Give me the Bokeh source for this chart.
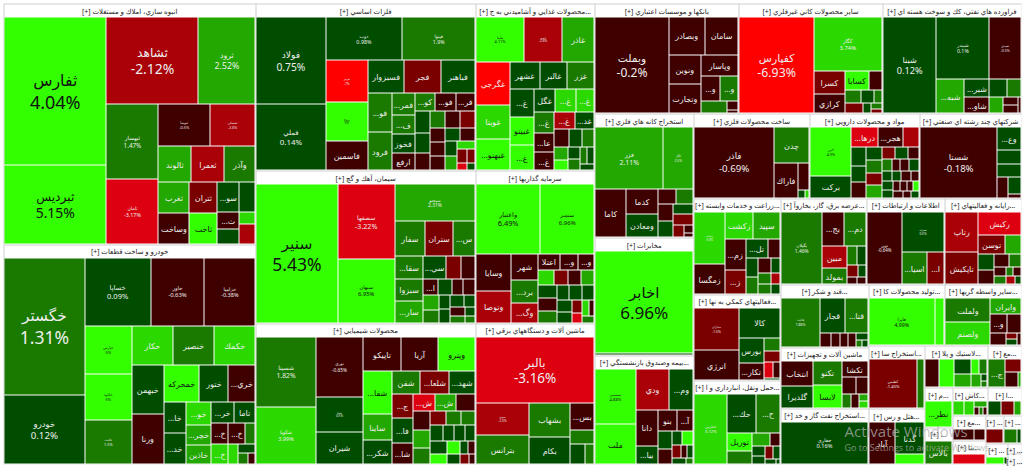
from bokeh.plotting import figure
from bokeh.models import ColumnDataSource
from bokeh.core.properties import value
from bokeh.embed import file_html
from bokeh.resources import INLINE
import numpy as np

s01_t="انبوه سازي، املاك و مستغلات"
s01_n=["ثفارس","ثبرديس","ثشاهد","ثرود","ثبهساز","ثامان","ثنوسا","ثمسكن","ثالوند","ثعمرا","وآذر","ثغرب","وساخت","ثتران","ثاخت","...سو","","...ث","","",""]
s01_v=[14872,7800,7790,4785,3773,3200,2050,1804,1120,1120,1050,900,870,810,783,609,435,336,273,165,270]
s01_c=[4.04,5.15,-2.12,2.52,1.47,-3.17,-0.5,-2.6,2.5,-2.5,1.5,2.5,-0.5,-1.5,5,0.5,0.5,-1,0.5,3.5,-2.5]
s01_l="c2 r2 c2 r2 r3 c2 c2 r2 c2 c2"
s02_t="خودرو و ساخت قطعات"
s02_n=["خگستر","خودرو","خساپا","خاور","خزاميا","خپارس","خكاوه","خلنت","حكار","خنصير","خكمك","خبهمن","ورنا","خمحركه","ختور","...خري","...خا","...خد","...خو","...خچر","خاذين","...خر","تاما","...خ","...خ","","...خ","","","",""]
s02_v=[10960,5440,4420,3604,3400,2162,2116,1978,1520,1520,1520,1488,1519,1260,1008,936,651,630,550,475,450,440,420,320,320,180,304,171,128,90,60]
s02_c=[1.31,0.12,0.09,-0.63,-0.38,5,5,1.5,3.2,1.5,3.5,0.5,-0.5,5,0.5,-0.5,0.5,0.5,3,2.5,2.5,0.5,0.5,-0.5,-1,1.5,3,3,0.5,1.5,-0.5]
s02_l="c2 r3 c3 r3 c2 r3 c2 c3 r2 r3 c1 c1 r1 r2"
s03_t="فلزات اساسي"
s03_n=["فولاد","فملي","ذوب","فينوا","هرمز","ونوكا","فاسمين","فسبزوار","فجر","فباهنر","...فو","فرود","...فمر","...ف","فخوز","ارفع","...كو","...فو","...فر","","","","","","","","","","","","","","","","","",""]
s03_v=[5848,4488,3225,3053,1681,1558,1189,1120,1120,1056,874,851,462,396,396,352,320,320,304,294,266,224,240,195,195,195,224,224,168,168,154,143,128,117,91,54,42]
s03_c=[0.75,0.14,0.98,1.9,-7,5,-0.5,0.5,-1.5,0.5,1.5,1.5,1.5,1.5,0.5,-0.5,1.5,-0.5,-0.5,0.5,0.5,-0.5,1.5,-0.5,-0.5,-0.5,-0.5,-1.5,0.5,-0.5,0.5,2.5,3,-1.5,-1.5,-3.5,0.5]
s03_l="c2 r2 c3 r3 c2 c4 r3 c3 c4 r2 r2 c2 r1 r2 r2"
s04_t="محصولات غذايي و آشاميدني به ج"
s04_n=["ملينا","غپينو","غاذر","غگرجي","غويتا","...غبهنو","غشهر","غالبر","غزر","...غ","غبينو","...غ","غگل","...غ","...غ","...غ","...عا","...غ","...غ","...غد","","","","","","","","","",""]
s04_v=[2021,1591,1333,1344,1056,992,725,675,650,616,594,550,441,420,378,378,342,324,315,300,225,195,180,154,121,126,108,100,100,72]
s04_c=[4.11,-2.6,2.5,-7,3.2,5,0.5,0.5,1.5,0.5,5,5,0.5,3.5,3.5,1.5,-0.5,-0.5,-2.5,0.5,-0.5,0.5,1.5,2.5,5,0.5,1.5,1.5,0.5,0.5]
s04_l="r3 c3 r3 c3 r3 c3 r2 r3 c2 c2 r2 r1"
s05_t="سيمان، آهك و گچ"
s05_n=["سنير","سصفها","سبهان","سبجنو","سفار","ستران","...س","...سقا","سبزوا","...سار","...سي","","","...ا","","","","","","","","","","","","",""]
s05_v=[10880,4088,3472,2765,986,918,714,594,567,567,462,315,273,210,195,165,165,196,168,135,126,126,108,110,80,72,48]
s05_c=[5.43,-3.22,6.95,2.31,1.5,-1.5,1.5,1.5,1.5,2.5,0.5,-1.5,-0.5,-0.5,0.5,-0.5,-0.5,2.5,1.5,0.5,0.5,0.5,0.5,-0.5,1.5,0.5,1.5]
s05_l="c1 c2 r1 r3 c3 r3 r4 c2 c2 r2 c2 c2"
s06_t="سرمايه گذاريها"
s06_n=["واعتبار","ستمبر","وسايا","وتوصا","شهر","...برد","...وگ","اعتلا","...و","...و","","","","","","","","","","","","","","","","",""]
s06_v=[4221,3551,1221,1023,650,550,475,315,270,225,208,169,169,169,208,192,192,156,156,144,156,143,104,72,90,70,63]
s06_c=[6.49,6.96,-0.5,-2.5,-0.5,1.5,-2.5,-0.5,-0.5,-0.5,3.2,-1.5,-0.5,2.5,0.5,-0.5,1.5,0.5,0.5,0.5,0.5,0.5,-1.5,-3.5,3.2,-0.5,1.5]
s06_l="r2 c2 c3 r3 r4 c3 r3 c2 c2 r2 r1"
s07_t="محصولات شيميايي"
s07_n=["شسينا","شكويا","نوري","شپنا","شيران","تاپيكو","آريا","وپترو","...شفا","ساينا","...شكر","شفن","...شلعا","...شهد","...ج","...فا","...شا","...ش","...ش","","","","","","","","","","","","","","","","","","",""]
s07_v=[4002,3248,2714,1564,1426,1221,1221,1188,1134,675,621,588,588,525,480,480,420,315,315,285,285,270,225,208,182,182,182,140,140,140,182,143,140,110,88,72,72,48]
s07_c=[1.82,3.99,-0.65,0.5,0.5,-0.5,-0.5,5,5,2.5,0.5,1.5,-1.5,0.5,-1.5,0.5,-0.5,-3.5,2.5,-0.5,-0.5,2.5,1.5,-1.5,1.5,1.5,0.5,0.5,0.5,0.5,0.5,5,5,0.5,0.5,-0.5,-1.5,-0.5]
s07_l="c2 c3 r3 c3 r3 c3 r3 c3 r3 r4 c2 c2 r2 r2"
s08_t="ماشين آلات و دستگاههاي برقي"
s08_n=["بالبر","بموتو","بترانس","بشهاب","بكام","...بس","","",""]
s08_v=[7605,1612,1456,1320,1040,598,299,266,152]
s08_c=[-3.16,-2.5,1.5,1.5,0.5,-0.5,1.5,0.5,1.5]
s08_l="r1 c2 c2 r1 r1 r2"
s09_t="بانكها و موسسات اعتباري"
s09_n=["وبملت","وبصادر","سامان","ونوين","وتجارت","وپاسار","...و","...و","","",""]
s09_v=[6840,1260,1188,868,868,756,432,408,275,88,22]
s09_c=[-0.2,-0.5,-0.5,-0.5,-0.5,-0.5,-0.5,1.5,1.5,-0.5,-0.5]
s09_l="c1 r2 c2 r1 r2 c1 r1 r1"
s10_t="ساير محصولات كاني غيرفلزي"
s10_n=["كفپارس","كگاز","كسرا","كرازي","كسابا","","","","","","","",""]
s10_v=[6935,3551,660,540,414,216,176,132,77,160,66,45,33]
s10_c=[-6.93,3.74,-1.5,-0.5,5,-0.5,1.5,0.5,1.5,-1.5,0.5,1.5,-1.5]
s10_l="c1 r1 c2 r2 r3 c1 c1 c2"
s11_t="فراورده هاي نفتي، كك و سوخت هسته اي"
s11_n=["شبنا","شبندر","شپدي","...شبه","...شبر","...شاو","","","","","",""]
s11_v=[5035,3172,1891,891,408,360,272,221,192,112,98,32]
s11_c=[0.12,0.1,-0.5,2.5,0.5,-0.5,0.5,1.5,2.5,-0.5,-0.5,-0.5]
s11_l="c1 r2 c1 c2 r2 c1 c2 c1"
s12_t="استخراج كانه هاي فلزي"
s12_n=["فزر","كگل","كاما","كدما","ومعادن","","","","","","","","",""]
s12_v=[4020,1740,1380,713,682,221,221,224,210,180,180,110,63,27]
s12_c=[2.11,2.5,-0.5,-0.5,0.5,-0.5,1.5,-0.5,0.5,0.5,-1.5,-1.5,-0.5,-0.5]
s12_l="r2 c1 c2 r2 c2 r1 r1 c1 c2"
s13_t="مخابرات"
s13_n=["اخابر",""]
s13_v=[9702,190]
s13_c=[6.96,0.5]
s13_l="r1 r1"
s14_t="بيمه وصندوق بازنشستگي"
s14_n=["ممسنی","ملت","ودي","...وم","دانا","...بيا","بنو","...آ","","","","","","","","",""]
s14_v=[2106,1482,1287,897,735,357,342,304,216,168,132,132,90,60,60,72,32]
s14_c=[4.88,5,-2.5,0.5,-0.5,0.5,-0.5,-0.5,0.5,-0.5,0.5,5,-1.5,-0.5,0.5,0.5,1.5]
s14_l="c2 r2 c2 r2 c2 r2 r3 r2"
s15_t="ساخت محصولات فلزي"
s15_n=["فاذر","چدن","فاراك","","",""]
s15_v=[5372,1190,759,260,36,24]
s15_c=[-0.69,1.5,-0.5,-0.5,0.5,3.5]
s15_l="c1 r1 c1 r1 r2"
s16_t="مواد و محصولات دارويي"
s16_n=["البرز","بركت","...درها","...هجر","","","","","","","","","","","","","","","","","","","","","","","","","","","",""]
s16_v=[1872,780,468,450,270,234,195,195,168,168,154,154,130,120,110,90,80,80,90,81,72,72,63,81,72,49,49,42,42,48,40,42]
s16_c=[4.9,0.5,-3.5,-0.5,-2.5,0.5,0.5,-0.5,0.5,1.5,-1.5,2.5,-1.5,0.5,-0.5,1.5,-0.5,-0.5,0.5,0.5,0.5,-0.5,-0.5,0.5,0.5,-0.5,-0.5,-0.5,5,-0.5,-0.5,0.5]
s16_l="c2 r3 c3 c4 r3 r4 r4 c2 r4 r3"
s17_t="شركتهاي چند رشته اي صنعتي"
s17_n=["شستا","...وع","","","","",""]
s17_v=[5168,483,299,276,190,180,36]
s17_c=[-0.18,0.5,0.5,0.5,-0.5,0.5,-0.5]
s17_l="c1 r1 r1 r1 c1 c2"
s18_t="زراعت و خدمات وابسته"
s18_n=["زدشت","زمگسا","زكشت","سپيد","...زم","...ز","...تل","","","","","","","","",""]
s18_v=[1500,812,702,676,580,440,378,216,187,176,156,117,120,90,96,72]
s18_c=[3.3,-0.5,3.2,2.5,-0.5,-1.5,0.5,-0.5,0.5,1.5,-0.5,0.5,1.5,-2.5,1.5,0.5]
s18_l="c2 r2 c2 r2 c2 r2 r2 r2"
s19_t="عرضه برق، گاز، بخاروآ"
s19_n=["بگيلان","...بج","...دم","مبين","بمولد","","","","","",""]
s19_v=[2622,651,651,483,322,153,153,99,72,54,45]
s19_c=[1.46,-0.5,1.5,-3,1.5,1.5,0.5,-1.5,0.5,-0.5,-0.5]
s19_l="c1 r2 c2 r2 r2 r2"
s20_t="اطلاعات و ارتباطات"
s20_n=["نوين","همراه","...اسيا","...ا"]
s20_v=[2277,1558,696,464]
s20_c=[-0.64,0.5,1.5,-1.5]
s20_l="c1 r1 r2"
s21_t="رايانه و فعاليتهاي"
s21_n=["رتاپ","تاپكيش","ركيش","توسن","","","","","","","","","","",""]
s21_v=[1254,957,902,450,270,196,182,165,121,88,48,56,77,56,35]
s21_c=[-2.5,-1.5,-3.5,-1.5,2.5,0.5,-0.5,-0.5,1.5,-0.5,1.5,-0.5,1.5,-3,0.5]
s21_l="c2 r1 r2 c2 r2 r3 r3"
s22_t="فعاليتهاي كمكي به نها"
s22_n=["مداران","انرژي","كالا","بورس","...تكار","","","","",""]
s22_v=[1806,1247,1189,576,384,192,160,126,98,22]
s22_c=[-1.5,-0.5,0.5,0.5,-0.5,1.5,-1.5,-3.2,-0.5,0.5]
s22_l="c2 r1 c2 r1 r1 r2 r1"
s23_t="حمل ونقل، انبارداري و ا"
s23_n=["حفارس","...حك","...ح","توريل","","","","","","","","",""]
s23_v=[2176,1036,888,384,288,204,108,108,84,84,72,40,12]
s23_c=[3.12,0.5,1.5,4.5,1.5,2.5,-0.5,0.5,0.5,-1.5,0.5,0.5,0.5]
s23_l="c1 r2 c2 r2 c2 r2 r2"
s24_t="قند و شكر"
s24_n=["قثابت","قجار","...قتا","","","","","","",""]
s24_v=[1728,816,714,130,91,91,78,56,32,30]
s24_c=[1.86,0.5,1.5,-0.5,-0.5,-0.5,-0.5,0.5,1.5,0.5]
s24_l="c1 r2 c1 c1 c1 c1 r1 r2"
s25_t="ماشين آلات و تجهيزات"
s25_n=["انتخاب","گلديرا","تكنو","لابسا","تكشا","","","","","",""]
s25_v=[682,620,594,567,360,195,150,104,91,42,42]
s25_c=[-0.5,0.5,1.5,5,-0.5,-0.5,-0.5,1.5,-0.5,2.5,3.2]
s25_l="c2 c2 r1 r2 c1 c1 c2"
s26_t="استخراج نفت گاز و خد"
s26_n=["حفاري"]
s26_v=[3612]
s26_c=[0.16]
s26_l="r1"
s27_t="توليد محصولات كا"
s27_n=["فايرا",""]
s27_v=[2990,414]
s27_c=[4.99,5]
s27_l="c1 c1"
s28_t="ساير واسطه گريها"
s28_n=["ولملت","ولصنم","وايران","...و","","","","",""]
s28_v=[989,946,435,270,234,154,50,50,33]
s28_c=[1.5,3.2,2.5,-0.5,-0.5,-0.5,-1.5,0.5,-0.5]
s28_l="c2 r1 r2 c1 c2 c1"
s29_t="استخراج سا"
s29_n=["كطبس",""]
s29_v=[2162,282]
s29_c=[-1.45,1.5]
s29_l="c1 c1"
s30_t="لاستيك و پلا"
s30_n=["","","","","","","","",""]
s30_v=[312,312,192,176,84,84,88,25,25]
s30_c=[-0.5,5,0.5,2.5,5,1.5,2.5,0.5,1.5]
s30_l="c1 c1 c2 r2 c1 c2"
s31_t="مع"
s31_n=["...ج","","",""]
s31_v=[408,165,144,36]
s31_c=[1.5,-1.5,-0.5,2.5]
s31_l="c1 r1 c1 c1"
s32_t="هتل و رس"
s32_n=["آباد","گدنا",""]
s32_v=[1025,837,243]
s32_c=[-0.5,0.5,5]
s32_l="c1 r1 r1"
s33_t="م"
s33_n=["...نطر"]
s33_v=[600]
s33_c=[5]
s33_l="r1"
s34_t=""
s34_n=["بالاس"]
s34_v=[624]
s34_c=[1.5]
s34_l="r1"
s35_t="كاش"
s35_n=["","","","","",""]
s35_v=[132,108,54,27,18,18]
s35_c=[3.2,3.2,2.5,-0.5,1.5,-0.5]
s35_l="c1 c1 r1 r3"
s36_t="ا"
s36_n=["","",""]
s36_v=[144,132,72]
s36_c=[0.5,-1.5,2.5]
s36_l="c1 c1 c1"
s37_t="مع"
s37_n=["",""]
s37_v=[209,99]
s37_c=[-0.5,-0.5]
s37_l="c1 c1"
s38_t="بتا"
s38_n=[""]
s38_v=[310]
s38_c=[-3.2]
s38_l="r1"
s39_t=""
s39_n=[""]
s39_v=[285]
s39_c=[-1.5]
s39_l="r1"
s40_t=""
s40_n=["",""]
s40_v=[180,45]
s40_c=[1.5,0.5]
s40_l="c1 c1"
s41_t=""
s41_n=["",""]
s41_v=[154,14]
s41_c=[5,0.5]
s41_l="c1 c1"
s42_t=""
s42_n=[]
s42_v=[]
s42_c=[]
s42_l=""
s43_t=""
s43_n=[]
s43_v=[]
s43_c=[]
s43_l=""

sector_order=[1,2,3,5,7,4,6,8,9,10,11,12,13,14,15,16,17,18,22,23,19,20,21,24,25,26,27,28,29,32,30,31,33,34,35,36,37,38,39,40,41,42,43]
sector_sizes=[60480,55440,36657,33364,30950,19873,18088,16779,15840,15730,15290,12276,11583,10791,9744,9240,8568,8352,7482,7308,7396,6708,6622,5481,5307,4872,4697,4697,3528,3136,2624,1394,1080,1026,972,945,832,800,520,494,462,150,150]
sector_layout="c2 c3 c3 r3 c3 r3 c3 r3 c3 r2 c2 r2 c2 r2 c2 r2 c1 c2"
overflow_titles={4,14,18,19,21,22,23,24,26,27,28,29,30,31,32,33,35,36,37,38,41}
sectors=[[i]+[globals()[f"s{i:02d}_{k}"] for k in "tnvcl"] for i in sector_order]

def strips(vals,layout,x,y,w,h):
    """Slice a rectangle into columns/rows of tiles, each tile's area proportional to its value."""
    total=sum(vals)
    if not vals: return []
    k=w*h/total
    areas=[v*k for v in vals]; out=[]; i=0
    for tok in layout.split():
        n=int(tok[1:]); row=areas[i:i+n]; s=sum(row); pos=0
        if tok[0]=="c":
            t=s/h if h else 0
            for a in row:
                l=a/t; out.append((x,y+pos,t,l)); pos+=l
            x+=t; w-=t
        else:
            t=s/w if w else 0
            for a in row:
                l=a/t; out.append((x+pos,y,l,t)); pos+=l
            y+=t; h-=t
        i+=n
    return out

def band(c):
    for lim,col in [(4,"#33ff00"),(3,"#2bd900"),(2,"#22a800"),(1,"#1a7a00"),(0,"#004d00"),(-1,"#3f0000"),(-2,"#7a0000"),(-3,"#aa0008"),(-4,"#dd0010")]:
        if c>=lim: return col
    return "#ff0000"

X0,Y0,X1,Y1=3,3,1021,464
FONT=value("Noto Sans, DejaVu Sans")
L,R,T,B,C=[],[],[],[],[]
hx,hy,ht=[],[],[]
tx,ty,tt,ts,tc=[],[],[],[],[]
rects=strips(sector_sizes,sector_layout,X0,Y0,X1-X0,Y1-Y0)
for (idx,title,names,vals,chg,lay),(x,y,w,h) in zip(sectors,rects):
    lab="[+] "+title+("..." if idx in overflow_titles else "") if title else "[+] ..."
    hx.append(x+w/2); hy.append(y+7.5); ht.append(lab)
    L.append(round(x)+1);R.append(round(x+w));T.append(round(y)+1);B.append(round(y+h));C.append("#ffffff")
    eff=[(v**.5+1)**2 for v in vals]
    for n,v,c,(a,b,cw,ch) in zip(names,vals,chg,strips(eff,lay,x+1,y+14,w-1,h-14)):
        l,r,t,bt=round(a),round(a+cw)-1,round(b),round(b+ch)-1
        L.append(l);R.append(max(r,l+1));T.append(t);B.append(max(bt,t+1));C.append(band(c))
        area=cw*ch
        col="#111111" if c>=4 else "#eeeeee"
        cx,cy=a+cw/2-.5,b+ch/2-.5
        if n and area>=1600:
            f=float(np.interp(area,[1600,2200,3000,3600,4500,5000,5800,7000,7800,9700,11000,15000],[3,4,5,5.7,7.5,9,10,12,13.5,17,17.5,18]))
            tx+= [cx,cx]; ty+=[cy-f*.6,cy+f*.6]; tt+=[n,f"{c:g}%"]; ts+=[f"{f*.88:.1f}px",f"{f:.1f}px"]; tc+=[col,col]
        elif n:
            tx.append(cx);ty.append(cy);tt.append(n);ts.append("8px");tc.append(col)

p=figure(width=1024,height=469,x_range=(0,1024),y_range=(469,0),toolbar_location=None,output_backend="svg",min_border=0,outline_line_color=None,background_fill_color="#ffffff",border_fill_color="#ffffff")
p.axis.visible=False; p.grid.visible=False
p.quad(left=[X0],right=[X1],top=[Y0],bottom=[Y1],fill_color="#cfcfcf",line_color=None)
p.quad(source=ColumnDataSource(dict(left=L,right=R,top=T,bottom=B,c=C)),left="left",right="right",top="top",bottom="bottom",fill_color="c",line_color=None)
p.text(source=ColumnDataSource(dict(x=hx,y=hy,t=ht)),x="x",y="y",text="t",text_font=FONT,text_font_size="7px",text_color="#222222",text_align="center",text_baseline="middle")
p.text(source=ColumnDataSource(dict(x=tx,y=ty,t=tt,s=ts,c=tc)),x="x",y="y",text="t",text_font=FONT,text_font_size="s",text_color="c",text_align="center",text_baseline="middle")
p.text(x=[844],y=[430],text=["Activate Windows"],text_font=value("Open Sans"),text_font_size="15px",text_color="#b0b0b0",text_alpha=0.75,text_baseline="middle")
p.text(x=[844],y=[447],text=["Go to Settings to activate Windows."],text_font=value("Open Sans"),text_font_size="9px",text_color="#b0b0b0",text_alpha=0.75,text_baseline="middle")
open("out.html","w").write(file_html(p,INLINE))
